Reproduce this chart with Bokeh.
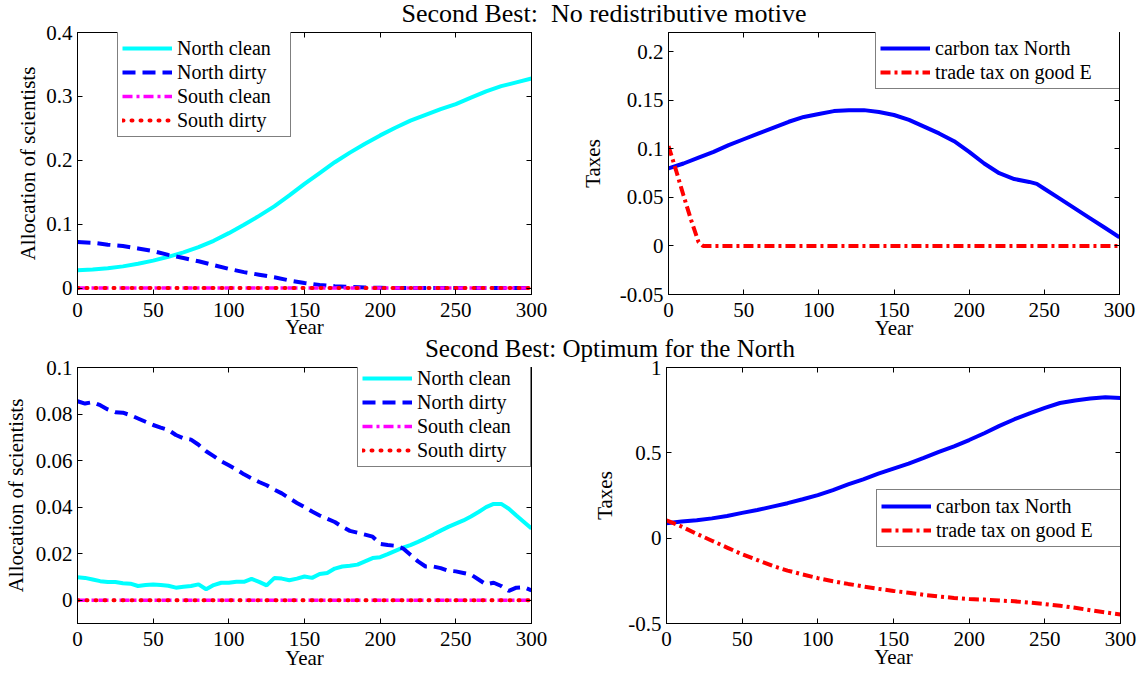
from bokeh.plotting import figure
from bokeh.models import (Range1d, FixedTicker, LinearAxis, Div)
from bokeh.layouts import column, row
from bokeh.embed import file_html
from bokeh.resources import INLINE

FONT = "Liberation Serif"
AFONT = "'Liberation Serif'"

# ---------------- data ----------------
year_ticks = [0, 50, 100, 150, 200, 250, 300]
year_tick_labels = ["0", "50", "100", "150", "200", "250", "300"]

title_top = "Second Best:  No redistributive motive"
title_bottom = "Second Best: Optimum for the North"

# Panel 1 (top-left): allocation of scientists, no redistributive motive
p1_years = [0, 10, 20, 30, 40, 50, 60, 70, 80, 90, 100, 110, 120, 130, 140, 150,
            160, 170, 180, 190, 200, 210, 220, 230, 240, 250, 260, 270, 280, 290, 300]
p1_north_clean = [0.028, 0.029, 0.031, 0.034, 0.038, 0.043, 0.049, 0.056, 0.064, 0.074,
                  0.086, 0.099, 0.113, 0.128, 0.145, 0.163, 0.180, 0.197, 0.212, 0.226,
                  0.239, 0.251, 0.262, 0.271, 0.280, 0.288, 0.298, 0.308, 0.316, 0.322, 0.328]
p1_north_dirty = [0.072, 0.071, 0.068, 0.066, 0.062, 0.058, 0.052, 0.047, 0.042, 0.036,
                  0.030, 0.025, 0.021, 0.017, 0.012, 0.008, 0.005, 0.003, 0.002, 0.001,
                  0.0005, 0.0, 0.0, 0.0, 0.0, 0.0, 0.0, 0.0, 0.0, 0.0, 0.0]
p1_south_clean = [0.0] * 31
p1_south_dirty = [0.0] * 31
p1_yticks = [0, 0.1, 0.2, 0.3, 0.4]
p1_ytick_labels = ["0", "0.1", "0.2", "0.3", "0.4"]

# Panel 2 (top-right): taxes, no redistributive motive
p2_carbon_years = [0, 10, 20, 30, 40, 50, 60, 70, 80, 90, 100, 110, 120, 130, 140, 150,
                   160, 170, 180, 190, 200, 210, 220, 230, 240, 245, 250, 260, 270, 280, 290, 300]
p2_carbon_tax = [0.080, 0.085, 0.091, 0.097, 0.104, 0.110, 0.116, 0.122, 0.128, 0.133,
                 0.136, 0.139, 0.140, 0.140, 0.138, 0.135, 0.130, 0.123, 0.116, 0.108,
                 0.097, 0.085, 0.075, 0.069, 0.066, 0.064, 0.059, 0.049, 0.039, 0.029, 0.019, 0.009]
p2_trade_years = [0, 5, 10, 15, 20, 23, 50, 100, 150, 200, 250, 300]
p2_trade_tax = [0.103, 0.078, 0.052, 0.027, 0.004, 0.0, 0.0, 0.0, 0.0, 0.0, 0.0, 0.0]
p2_yticks = [-0.05, 0, 0.05, 0.1, 0.15, 0.2]
p2_ytick_labels = ["-0.05", "0", "0.05", "0.1", "0.15", "0.2"]

# Panel 3 (bottom-left): allocation of scientists, optimum for the North
p3_years = [0, 5, 10, 15, 20, 25, 30, 35, 40, 45, 50, 55, 60, 65, 70, 75, 80, 85, 90, 95,
            100, 105, 110, 115, 120, 125, 130, 135, 140, 145, 150, 155, 160, 165, 170, 175,
            180, 185, 190, 195, 200, 205, 210, 215, 220, 225, 230, 235, 240, 245, 250, 255,
            260, 265, 270, 275, 280, 285, 290, 295, 300]
p3_north_clean = [0.0099, 0.0096, 0.0089, 0.0082, 0.0078, 0.0078, 0.0073, 0.0071, 0.0061, 0.0065,
                  0.0068, 0.0065, 0.0062, 0.0054, 0.0058, 0.0061, 0.0068, 0.0047, 0.0065, 0.0075,
                  0.0075, 0.0079, 0.0079, 0.0092, 0.0079, 0.0064, 0.0095, 0.0093, 0.0086, 0.0093,
                  0.0102, 0.0096, 0.0113, 0.0117, 0.0136, 0.0145, 0.0148, 0.0153, 0.0167, 0.0181,
                  0.0185, 0.0198, 0.0212, 0.0226, 0.0237, 0.0251, 0.0266, 0.0282, 0.0299, 0.0315,
                  0.0329, 0.0343, 0.0360, 0.0379, 0.0400, 0.0414, 0.0414, 0.0393, 0.0364, 0.0336, 0.0308]
p3_north_dirty = [0.0855, 0.0845, 0.0851, 0.0838, 0.0820, 0.0808, 0.0806, 0.0795, 0.0781, 0.0767,
                  0.0753, 0.0742, 0.0732, 0.0710, 0.0696, 0.0690, 0.0668, 0.0640, 0.0619, 0.0597,
                  0.0580, 0.0562, 0.0541, 0.0524, 0.0508, 0.0494, 0.0475, 0.0459, 0.0438, 0.0418,
                  0.0400, 0.0381, 0.0364, 0.0350, 0.0336, 0.0315, 0.0298, 0.0290, 0.0282, 0.0273,
                  0.0242, 0.0237, 0.0234, 0.0223, 0.0195, 0.0167, 0.0145, 0.0145, 0.0138, 0.0127,
                  0.0124, 0.0117, 0.0110, 0.0089, 0.0068, 0.0075, 0.0061, 0.0040, 0.0054, 0.0056, 0.0042]
p3_south_clean = [0.0] * 61
p3_south_dirty = [0.0] * 61
p3_yticks = [0, 0.02, 0.04, 0.06, 0.08, 0.1]
p3_ytick_labels = ["0", "0.02", "0.04", "0.06", "0.08", "0.1"]

# Panel 4 (bottom-right): taxes, optimum for the North
p4_years = [0, 10, 20, 30, 40, 50, 60, 70, 80, 90, 100, 110, 120, 130, 140, 150,
            160, 170, 180, 190, 200, 210, 220, 230, 240, 250, 260, 270, 280, 290, 300]
p4_carbon_tax = [0.088, 0.097, 0.105, 0.116, 0.130, 0.148, 0.165, 0.185, 0.205, 0.228,
                 0.252, 0.282, 0.315, 0.345, 0.378, 0.408, 0.437, 0.470, 0.505, 0.538,
                 0.575, 0.615, 0.658, 0.697, 0.731, 0.763, 0.792, 0.807, 0.818, 0.826, 0.822]
p4_trade_tax = [0.104, 0.068, 0.025, -0.015, -0.055, -0.095, -0.128, -0.162, -0.190, -0.213,
                -0.234, -0.252, -0.268, -0.283, -0.297, -0.309, -0.320, -0.332, -0.342, -0.350,
                -0.357, -0.360, -0.365, -0.370, -0.378, -0.386, -0.396, -0.408, -0.422, -0.435, -0.447]
p4_yticks = [-0.5, 0, 0.5, 1]
p4_ytick_labels = ["-0.5", "0", "0.5", "1"]


def style_axis(ax, ticks, labels, show_labels, standoff):
    ax.ticker = FixedTicker(ticks=ticks)
    ax.major_label_overrides = {t: s for t, s in zip(ticks, labels)}
    ax.major_tick_in = 5
    ax.major_tick_out = 0
    ax.minor_tick_line_color = None
    ax.major_tick_line_color = "black"
    ax.axis_line_color = "black"
    ax.major_label_text_font = FONT
    ax.major_label_text_font_size = "21px"
    ax.major_label_text_font_style = "normal"
    ax.major_label_standoff = standoff
    ax.major_label_text_color = "black" if show_labels else None


def make_panel(width, height, bl, br, bt, bb, ylo, yhi, yticks, ylabels, ylabel, xstand, ystand):
    p = figure(width=width, height=height, x_range=Range1d(0, 300), y_range=Range1d(ylo, yhi),
               output_backend="svg", toolbar_location=None,
               min_border_left=bl, min_border_right=br, min_border_top=bt, min_border_bottom=bb)
    p.xgrid.visible = False
    p.ygrid.visible = False
    p.outline_line_color = "black"
    p.outline_line_width = 1
    p.background_fill_color = "white"
    p.border_fill_color = None
    xa = p.xaxis[0]
    style_axis(xa, year_ticks, year_tick_labels, True, 8)
    xa.axis_label = "Year"
    xa.axis_label_text_font = AFONT
    xa.axis_label_text_font_size = "21px"
    xa.axis_label_text_font_style = "normal"
    xa.axis_label_text_color = "black"
    xa.axis_label_standoff = xstand
    ya = p.yaxis[0]
    style_axis(ya, yticks, ylabels, True, 5)
    ya.axis_label = ylabel
    ya.axis_label_text_font = AFONT
    ya.axis_label_text_font_size = "21px"
    ya.axis_label_text_font_style = "normal"
    ya.axis_label_text_color = "black"
    ya.axis_label_standoff = ystand
    right = LinearAxis()
    style_axis(right, yticks, ylabels, False, 0)
    p.add_layout(right, "right")
    top = LinearAxis()
    style_axis(top, year_ticks, year_tick_labels, False, 0)
    p.add_layout(top, "above")
    return p


def style_legend(p, x, y, label_width):
    lg = p.legend[0]
    lg.location = (x, y)
    lg.label_text_font = FONT
    lg.label_text_font_size = "20px"
    lg.label_text_color = "black"
    lg.glyph_width = 50
    lg.glyph_height = 24
    lg.label_height = 24
    lg.label_width = label_width
    lg.label_standoff = 5
    lg.spacing = 0
    lg.padding = 4
    lg.margin = 0
    lg.border_line_color = "black"
    lg.border_line_width = 1
    lg.background_fill_color = "white"
    lg.background_fill_alpha = 1


DASH = "13 7"
DASHDOT = "10 4 3 4"
DOT = "1 8"

# ---- panel 1
p1 = make_panel(577, 325, 77, 46, 12, 50, -0.01, 0.4, p1_yticks, p1_ytick_labels,
                "Allocation of scientists", -5, 3)
p1.line(p1_years, p1_north_clean, line_color="#00FFFF", line_width=4, legend_label="North clean")
p1.line(p1_years, p1_north_dirty, line_color="#0000FF", line_width=4, line_dash=DASH,
        legend_label="North dirty")
p1.line(p1_years, p1_south_clean, line_color="#FF00FF", line_width=3.5, line_dash=DASHDOT,
        legend_label="South clean")
p1.line(p1_years, p1_south_dirty, line_color="#FF0000", line_width=4, line_dash=DOT,
        line_cap="round", legend_label="South dirty")
style_legend(p1, 40, 157, 109)

# ---- panel 2
p2 = make_panel(562, 325, 90, 20, 12, 51, -0.05, 0.22, p2_yticks, p2_ytick_labels, "Taxes", -4, 12)
p2.line(p2_carbon_years, p2_carbon_tax, line_color="#0000FF", line_width=4,
        legend_label="carbon tax North")
p2.line(p2_trade_years, p2_trade_tax, line_color="#FF0000", line_width=4, line_dash=DASHDOT,
        legend_label="trade tax on good E")
style_legend(p2, 207, 205, 182)

# ---- panel 3
p3 = make_panel(577, 320, 77, 46, 12, 46, -0.01, 0.1, p3_yticks, p3_ytick_labels,
                "Allocation of scientists", -3, 5)
p3.line(p3_years, p3_north_clean, line_color="#00FFFF", line_width=4, legend_label="North clean")
p3.line(p3_years, p3_north_dirty, line_color="#0000FF", line_width=4, line_dash=DASH,
        legend_label="North dirty")
p3.line(p3_years, p3_south_clean, line_color="#FF00FF", line_width=3.5, line_dash=DASHDOT,
        legend_label="South clean")
p3.line(p3_years, p3_south_dirty, line_color="#FF0000", line_width=4, line_dash=DOT,
        line_cap="round", legend_label="South dirty")
style_legend(p3, 280, 156, 109)

# ---- panel 4
p4 = make_panel(562, 320, 89, 19, 12, 52, -0.5, 1.0, p4_yticks, p4_ytick_labels, "Taxes", -4, 8)
p4.line(p4_years, p4_carbon_tax, line_color="#0000FF", line_width=4,
        legend_label="carbon tax North")
p4.line(p4_years, p4_trade_tax, line_color="#FF0000", line_width=4, line_dash=DASHDOT,
        legend_label="trade tax on good E")
style_legend(p4, 210, 76, 181)

T1_STYLE = ("width:1000px;text-align:center;font-family:'Liberation Serif';font-size:26px;"
            "line-height:26px;white-space:pre;color:black;")
T2_STYLE = ("width:1000px;text-align:center;font-family:'Liberation Serif';font-size:25px;"
            "line-height:25px;white-space:pre;color:black;")
d1 = Div(text=f'<div style="margin-left:104px;margin-top:1px;{T1_STYLE}">{title_top}</div>',
         width=1139, height=20, margin=0)
d2 = Div(text=f'<div style="margin-left:110px;margin-top:-16px;{T2_STYLE}">{title_bottom}</div>',
         width=1139, height=10, margin=0)

layout = column(d1, row(p1, p2, spacing=0), d2, row(p3, p4, spacing=0), spacing=0)

open("out.html", "w").write(file_html(layout, INLINE))
